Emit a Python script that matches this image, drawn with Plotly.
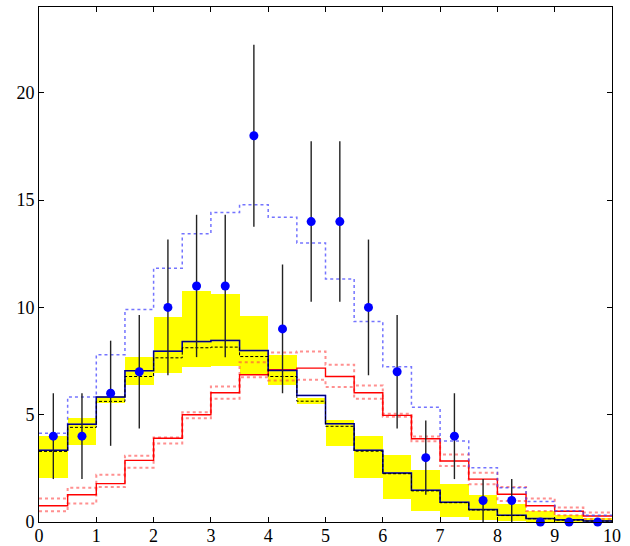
import numpy as np
import plotly.graph_objects as go

# bin edges and centers
edges = [i * 0.5 for i in range(21)]
centers = [0.25 + i * 0.5 for i in range(20)]

# observed counts
data_counts = [4, 4, 6, 7, 10, 11, 11, 18, 9, 14, 14, 10, 7, 3, 4, 1, 1, 0, 0, 0]

# yellow band (low / high)
band_low = [2.05, 3.58, 5.55, 6.40, 6.94, 7.22, 7.25, 6.86, 6.40, 5.50,
            3.54, 2.07, 1.07, 0.51, 0.23, 0.11, 0.03, 0.0, 0.0, 0.0]
band_high = [3.99, 4.83, 5.85, 7.68, 9.54, 10.75, 10.63, 9.62, 7.76, 5.80,
             4.77, 3.99, 3.10, 2.41, 1.76, 1.24, 0.82, 0.51, 0.31, 0.18]

# blue solid (central) and black solid
blue_solid = [3.34, 4.55, 5.82, 7.05, 7.96, 8.41, 8.46, 7.99, 7.06, 5.90,
              4.58, 3.34, 2.28, 1.48, 0.92, 0.58, 0.31, 0.16, 0.10, 0.05]
black_solid = [3.34, 4.55, 5.82, 7.05, 7.96, 8.41, 8.46, 7.99, 7.06, 5.90,
               4.58, 3.34, 2.28, 1.48, 0.92, 0.58, 0.31, 0.16, 0.10, 0.05]
# black dashed
black_dashed = [3.29, 4.41, 5.62, 6.78, 7.65, 8.12, 8.15, 7.71, 6.78, 5.63,
                4.46, 3.30, 2.25, 1.45, 0.90, 0.56, 0.30, 0.15, 0.09, 0.04]
# blue dotted
blue_dotted = [4.14, 5.82, 7.80, 9.90, 11.83, 13.43, 14.42, 14.79, 14.20, 13.00,
               11.33, 9.34, 7.23, 5.35, 3.77, 2.53, 1.60, 0.95, 0.53, 0.31]
# red solid and envelope
red_solid = [0.76, 1.27, 1.79, 2.87, 3.90, 5.00, 6.02, 6.86, 7.10, 7.17,
             6.78, 6.02, 4.97, 3.88, 2.84, 2.00, 1.29, 0.76, 0.50, 0.28]
red_upper = [1.10, 1.60, 2.20, 3.09, 3.94, 5.12, 6.32, 7.45, 7.90, 7.95,
             7.33, 6.36, 5.05, 3.99, 3.15, 2.30, 1.63, 1.09, 0.67, 0.44]
red_lower = [0.50, 0.86, 1.63, 2.53, 3.66, 4.84, 5.74, 6.75, 6.60, 6.63,
             6.29, 5.74, 4.90, 3.76, 2.61, 1.76, 0.98, 0.51, 0.31, 0.14]

x_ticks = [0, 1, 2, 3, 4, 5, 6, 7, 8, 9, 10]
y_ticks = [0, 5, 10, 15, 20]


def step(vals):
    return list(vals) + [vals[-1]]


fig = go.Figure()

fig.add_trace(go.Bar(
    x=centers, y=[h - l for h, l in zip(band_high, band_low)], base=band_low,
    width=0.5, marker=dict(color="#ffff00", line=dict(width=0)), showlegend=False,
))

for vals, color, dash, w in [
    (red_upper, "rgba(255,70,70,0.6)", "dot", 2),
    (red_lower, "rgba(255,70,70,0.6)", "dot", 2),
    (red_solid, "#ff0000", "solid", 1.4),
    (blue_dotted, "rgba(70,70,255,0.75)", "dot", 1.5),
    (blue_solid, "#0000ff", "solid", 1.5),
    (black_solid, "rgba(0,0,0,0.5)", "solid", 1.2),
    (black_dashed, "#000000", "3px,2px", 1),
]:
    fig.add_trace(go.Scatter(
        x=edges, y=step(vals), mode="lines", line_shape="hv",
        line=dict(color=color, dash=dash, width=w), showlegend=False,
    ))

errs = [float(np.sqrt(n)) for n in data_counts]
fig.add_trace(go.Scatter(
    x=centers, y=data_counts, mode="markers",
    marker=dict(color="#0000ff", size=9),
    error_y=dict(type="data", array=errs, visible=True, color="#222222",
                 thickness=1.4, width=0),
    cliponaxis=False, showlegend=False,
))

axis_common = dict(
    showgrid=False, zeroline=False, showline=True, linecolor="black", linewidth=1,
    mirror="ticks", ticks="inside", ticklen=5, tickcolor="black", automargin=False,
    tickfont=dict(family="Liberation Serif", size=18, color="black"),
)
fig.update_layout(
    width=630, height=546,
    margin=dict(l=39, r=18, t=7, b=24),
    plot_bgcolor="white", paper_bgcolor="white",
    barmode="overlay", bargap=0,
    xaxis=dict(range=[0, 10], tickvals=x_ticks, ticklabelstandoff=-3, **axis_common),
    yaxis=dict(range=[0, 24], tickvals=y_ticks, **axis_common),
)

fig.write_html("out.html")
